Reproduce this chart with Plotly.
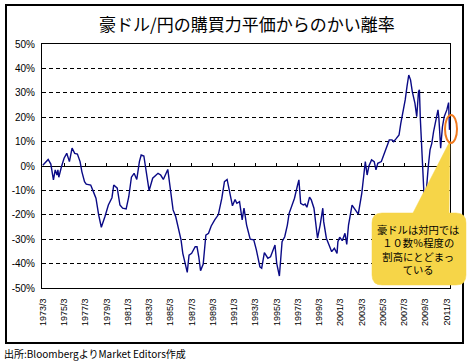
import plotly.graph_objects as go

# ---- data ----
dates = [
    "1973-03", "1973-09", "1973-12", "1974-03", "1974-05", "1974-07", "1974-08", "1974-09",
    "1974-12", "1975-03", "1975-06", "1975-09", "1975-12", "1976-03", "1976-06", "1976-09",
    "1976-11", "1977-02", "1977-04", "1977-09", "1977-12", "1978-03", "1978-06", "1978-09",
    "1979-01", "1979-05", "1979-09", "1979-11", "1980-03", "1980-06", "1980-09", "1981-01",
    "1981-04", "1981-07", "1981-10", "1982-01", "1982-04", "1982-06", "1982-09", "1982-12",
    "1983-03", "1983-07", "1984-01", "1984-04", "1984-07", "1984-12", "1985-02", "1985-04",
    "1985-06", "1985-09", "1985-12", "1986-03", "1986-05", "1986-08", "1986-10", "1986-12",
    "1987-03", "1987-07", "1987-09", "1987-11", "1988-01", "1988-04", "1988-07", "1988-10",
    "1989-01", "1989-05", "1989-09", "1990-01", "1990-04", "1990-07", "1990-10", "1991-01",
    "1991-04", "1991-06", "1991-09", "1991-12", "1992-02", "1992-05", "1992-09", "1993-01",
    "1993-04", "1993-08", "1993-10", "1994-01", "1994-05", "1994-08", "1995-01", "1995-03",
    "1995-06", "1995-09", "1995-12", "1996-03", "1996-05", "1996-08", "1996-11", "1997-02",
    "1997-04", "1997-06", "1997-09", "1997-11", "1998-01", "1998-04", "1998-06", "1998-09",
    "1998-11", "1999-01", "1999-04", "1999-07", "1999-08", "1999-11", "2000-02", "2000-05",
    "2000-08", "2000-11", "2000-12", "2001-02", "2001-05", "2001-08", "2001-10", "2001-12",
    "2002-04", "2002-07", "2002-11", "2003-03", "2003-05", "2003-07", "2003-09", "2003-11",
    "2004-02", "2004-05", "2004-07", "2004-09", "2005-01", "2005-04", "2005-07", "2005-10",
    "2006-01", "2006-03", "2006-06", "2006-09", "2006-11", "2007-02", "2007-04", "2007-06",
    "2007-08", "2007-10", "2007-12", "2008-03", "2008-05", "2008-07", "2008-08", "2008-09",
    "2008-11", "2008-12", "2009-01", "2009-03", "2009-04", "2009-06", "2009-08", "2009-10",
    "2009-12", "2010-02", "2010-05", "2010-06", "2010-08", "2010-10", "2010-12", "2011-03",
    "2011-05", "2011-06",
]
deviation_pct = [
    0.3, 2.7, 0.8, -5.7, -1.6, -3.7, -1.6, -4.6,
    -0.3, 3.2, 5.2, 1.8, 7.3, 5.2, 4.9, 1.8,
    -2.3, -6.4, -7.4, -7.8, -10.5, -13.2, -20.0, -25.1,
    -20.8, -16.0, -13.0, -7.8, -9.1, -16.0, -17.3, -17.6,
    -12.6, -4.6, -3.0, -5.5, 1.8, 4.5, 4.1, -2.3,
    -10.1, -5.0, -3.0, -3.7, -5.5, -1.4, -7.1, -14.6,
    -18.0, -20.8, -26.2, -30.3, -35.8, -40.6, -43.6, -36.5,
    -35.8, -33.1, -33.1, -37.2, -42.9, -40.2, -28.3, -27.6,
    -24.6, -22.1, -20.0, -13.2, -6.4, -5.5, -11.2, -16.3,
    -13.7, -15.3, -14.6, -22.1, -17.3, -24.2, -30.0, -30.3,
    -34.4, -41.3, -41.9, -35.5, -37.8, -37.2, -32.4, -39.9,
    -45.1, -31.0, -29.0, -24.2, -19.4, -16.0, -13.2, -8.5,
    -5.7, -15.3, -16.0, -15.6, -16.9, -12.8, -13.9, -17.3,
    -22.8, -29.6, -24.2, -17.3, -22.8, -29.6, -32.4, -35.1,
    -33.7, -35.8, -31.0, -29.2, -30.6, -27.6, -32.1, -24.2,
    -16.0, -17.5, -19.7, -11.2, -3.0, 1.8, -3.7, 0.0,
    2.5, 1.8, -1.6, 1.1, 1.8, 4.9, 7.9, 10.7,
    10.7, 10.0, 11.3, 12.7, 17.5, 23.0, 27.1, 32.5,
    37.3, 35.3, 30.5, 25.7, 20.2, 30.5, 31.2, 19.6,
    6.6, -3.0, -10.5, -13.9, -8.5, -0.3, 6.6, 9.3,
    14.1, 18.2, 23.0, 19.6, 7.3, 16.1, 20.2, 23.0,
    26.0, 14.8,
]
x_tick_labels = ["1973/3", "1975/3", "1977/3", "1979/3", "1981/3", "1983/3", "1985/3",
                 "1987/3", "1989/3", "1991/3", "1993/3", "1995/3", "1997/3", "1999/3",
                 "2001/3", "2003/3", "2005/3", "2007/3", "2009/3", "2011/3"]
y_tick_values = [-50, -40, -30, -20, -10, 0, 10, 20, 30, 40, 50]
y_tick_labels = [f"{v}%" for v in y_tick_values]
x_tick_dates = [f"{s.split('/')[0]}-{int(s.split('/')[1]):02d}-01" for s in x_tick_labels]

title_text = "豪ドル/円の購買力平価からのかい離率"
callout_lines = ["豪ドルは対円では", "１０数％程度の", "割高にとどまっ", "ている"]
source_text = "出所:BloombergよりMarket Editors作成"

# ---- layout geometry ----
W, H = 470, 363
ML, MR, MT, MB = 42, 20, 44, 75
PW, PH = W - ML - MR, H - MT - MB


def px(x):
    return (x - ML) / PW


def py(y):
    return (H - MB - y) / PH


x_range = ["1973-02-01", "2011-06-18"]
JP = "Noto Sans CJK JP"

fig = go.Figure()
fig.add_trace(go.Scatter(x=dates, y=deviation_pct, mode="lines",
                         line=dict(color="#0a0a86", width=1.4),
                         hoverinfo="skip", showlegend=False))
# invisible trace to carry the tick axis drawn on the zero line
fig.add_trace(go.Scatter(x=[dates[0], dates[-1]], y=[0, 0], xaxis="x2", mode="lines",
                         line=dict(color="rgba(0,0,0,0)", width=0),
                         hoverinfo="skip", showlegend=False))

fig.update_layout(
    width=W, height=H,
    margin=dict(l=ML, r=MR, t=MT, b=MB),
    paper_bgcolor="white", plot_bgcolor="white",
    showlegend=False,
    xaxis=dict(type="date", range=x_range, tickvals=x_tick_dates, ticktext=x_tick_labels,
               tickangle=-90, ticks="", showgrid=False, zeroline=False,
               showline=True, linecolor="black", linewidth=1, mirror=True,
               tickfont=dict(family="Liberation Sans", size=9, color="black"),
               ticklabelstandoff=6),
    xaxis2=dict(type="date", range=x_range, tickvals=x_tick_dates, overlaying="x",
                anchor="free", position=py(166), ticks="inside", ticklen=3,
                tickcolor="black", tickwidth=1, showticklabels=False, showgrid=False,
                zeroline=False, showline=False),
    yaxis=dict(range=[-50, 50], tickvals=y_tick_values, ticktext=y_tick_labels,
               ticks="", showgrid=True, gridcolor="black", gridwidth=1,
               griddash="4px,3px", zeroline=True, zerolinecolor="black",
               zerolinewidth=1, showline=True, linecolor="black", linewidth=1,
               mirror=True, tickfont=dict(family="Liberation Sans", size=10, color="black"),
               ticklabelstandoff=4),
)

shapes = []
# outer frame
shapes.append(dict(type="rect", xref="paper", yref="paper",
                   x0=px(6), x1=px(463), y0=py(343), y1=py(5),
                   line=dict(color="black", width=2), fillcolor="rgba(0,0,0,0)",
                   layer="above"))
# callout bubble with pointer
bx0, bx1, by0, by1, r = 372, 466, 213, 285, 10
pts = [
    ("M", (bx0 + r, by0)), ("L", (413, by0)), ("L", (450, 141)), ("L", (449, by0)),
    ("L", (bx1 - r, by0)), ("Q", (bx1, by0), (bx1, by0 + r)), ("L", (bx1, by1 - r)),
    ("Q", (bx1, by1), (bx1 - r, by1)), ("L", (bx0 + r, by1)),
    ("Q", (bx0, by1), (bx0, by1 - r)), ("L", (bx0, by0 + r)),
    ("Q", (bx0, by0), (bx0 + r, by0)),
]
path = ""
for item in pts:
    cmd = item[0]
    coords = " ".join(f"{px(a):.5f},{py(b):.5f}" for a, b in item[1:])
    path += f"{cmd} {coords} "
path += "Z"
shapes.append(dict(type="path", xref="paper", yref="paper", path=path,
                   fillcolor="#F6D548", line=dict(color="#F6D548", width=0.5),
                   layer="above"))
# orange ellipse highlighting the latest values
shapes.append(dict(type="circle", xref="paper", yref="paper",
                   x0=px(445), x1=px(457), y0=py(143), y1=py(115),
                   line=dict(color="#F07A1E", width=2), fillcolor="rgba(0,0,0,0)",
                   layer="above"))
fig.update_layout(shapes=shapes)

annotations = [
    dict(text=title_text, xref="paper", yref="paper", x=px(247), y=py(24),
         xanchor="center", yanchor="middle", showarrow=False,
         font=dict(family=JP, size=17, color="black")),
    dict(text=source_text, xref="paper", yref="paper", x=px(2), y=py(353),
         xanchor="left", yanchor="middle", showarrow=False,
         font=dict(family=JP, size=10, color="black")),
    dict(text="<br>".join(callout_lines), xref="paper", yref="paper", x=px(418),
         y=py(249.5), xanchor="center", yanchor="middle", align="center",
         showarrow=False, font=dict(family=JP, size=10.3, color="black")),
]
fig.update_layout(annotations=annotations)

fig.write_html("out.html", config={"displayModeBar": False},
               post_script="document.body.style.margin='0';document.body.style.overflow='hidden';")
